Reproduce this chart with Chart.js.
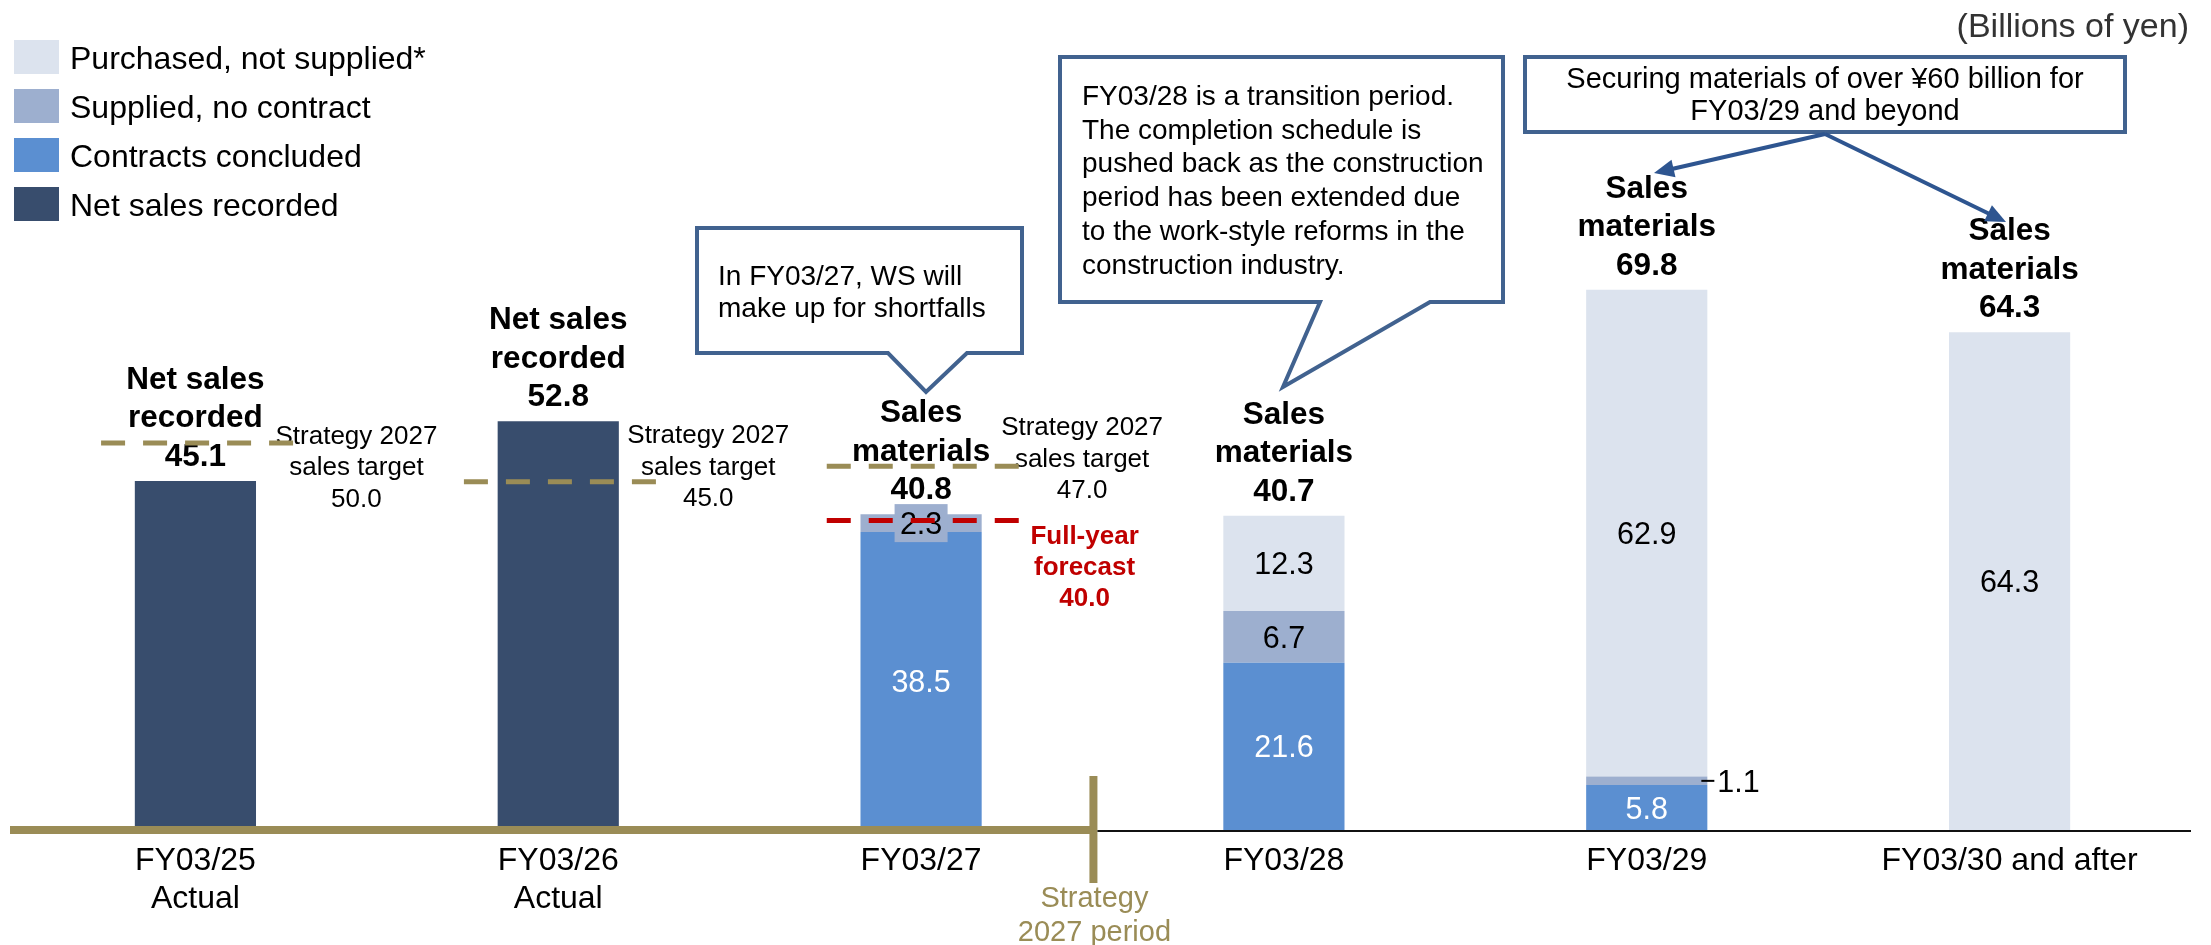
<!DOCTYPE html>
<html lang="en">
<head>
<meta charset="utf-8">
<title>Sales materials outlook</title>
<script src="https://cdn.jsdelivr.net/npm/chart.js@4.4.1/dist/chart.umd.min.js"></script>
<style>
  html, body { margin: 0; padding: 0; background: #fff; }
  #wrap { width: 2211px; height: 945px; }
</style>
</head>
<body>
<div id="wrap"><canvas id="chart" width="2211" height="945"></canvas></div>
<script>
// Data (billions of yen)
const categories = [['FY03/25', 'Actual'], ['FY03/26', 'Actual'], 'FY03/27', 'FY03/28', 'FY03/29', 'FY03/30 and after'];
const netSales  = [45.1, 52.8, null, null, null, null];
const contracts = [null, null, 38.5, 21.6, 5.8, null];
const supplied  = [null, null, 2.3, 6.7, 1.1, null];
const purchased = [null, null, null, 12.3, 62.9, 64.3];
// reported totals (rounded separately from the parts)
const totals    = [45.1, 52.8, 40.8, 40.7, 69.8, 64.3];
const headTitles = [
    ['Net sales', 'recorded'], ['Net sales', 'recorded'],
    ['Sales', 'materials'], ['Sales', 'materials'], ['Sales', 'materials'], ['Sales', 'materials']
];
const strategyTargets = [50.0, 45.0, 47.0];   // FY03/25 .. FY03/27
const forecastFY27 = 40.0;

// Styles
const FONT = '"Liberation Sans", Arial, Helvetica, sans-serif';
const COLORS = {
    purchased: '#DCE3EE',
    supplied: '#9DAFCF',
    contracts: '#5B8FD1',
    netSales: '#384D6D',
    olive: '#9A8C56',
    red: '#C00000',
    callout: '#41628F',
    arrow: '#2E5590'
};

// Helpers
function txt(ctx, str, x, y, size, opts = {}) {
    ctx.font = `${opts.bold ? 'bold ' : ''}${size}px ${FONT}`;
    ctx.fillStyle = opts.color || '#000';
    ctx.textAlign = opts.align || 'center';
    ctx.textBaseline = 'alphabetic';
    ctx.fillText(str, x, y);
}

function dashed(ctx, x0, x1, y, color) {
    ctx.save();
    ctx.strokeStyle = color;
    ctx.lineWidth = 5;
    ctx.setLineDash([24, 18]);
    ctx.beginPath();
    ctx.moveTo(x0, y);
    ctx.lineTo(x1, y);
    ctx.stroke();
    ctx.restore();
}

function callout(ctx, box, ptr, lines, size, lineGap, textX) {
    ctx.save();
    ctx.beginPath();
    ctx.moveTo(box.l, box.t);
    ctx.lineTo(box.r, box.t);
    ctx.lineTo(box.r, box.b);
    if (ptr) {
        ctx.lineTo(ptr.b, box.b);
        ctx.lineTo(ptr.tx, ptr.ty);
        ctx.lineTo(ptr.a, box.b);
    }
    ctx.lineTo(box.l, box.b);
    ctx.closePath();
    ctx.fillStyle = '#fff';
    ctx.fill();
    ctx.lineWidth = 4;
    ctx.lineJoin = 'miter';
    ctx.strokeStyle = COLORS.callout;
    ctx.stroke();
    ctx.restore();
    lines.forEach((s, k) => txt(ctx, s, textX, box.firstBase + k * lineGap, size, { align: box.align || 'left' }));
}

function arrow(ctx, x0, y0, x1, y1) {
    const ang = Math.atan2(y1 - y0, x1 - x0);
    const len = 20, half = 9;
    ctx.save();
    ctx.strokeStyle = COLORS.arrow;
    ctx.fillStyle = COLORS.arrow;
    ctx.lineWidth = 4;
    ctx.beginPath();
    ctx.moveTo(x0, y0);
    ctx.lineTo(x1 - Math.cos(ang) * len * 0.8, y1 - Math.sin(ang) * len * 0.8);
    ctx.stroke();
    ctx.beginPath();
    ctx.moveTo(x1, y1);
    ctx.lineTo(x1 - Math.cos(ang) * len + Math.sin(ang) * half, y1 - Math.sin(ang) * len - Math.cos(ang) * half);
    ctx.lineTo(x1 - Math.cos(ang) * len - Math.sin(ang) * half, y1 - Math.sin(ang) * len + Math.cos(ang) * half);
    ctx.closePath();
    ctx.fill();
    ctx.restore();
}

// Labels, targets, axis line and notes drawn on top of the bars
const overlayPlugin = {
    id: 'overlay',
    afterDatasetsDraw(chart) {
        const { ctx, scales: { x, y }, chartArea } = chart;
        ctx.save();

        // values inside the stacked segments
        chart.data.datasets.forEach((ds, di) => {
            if (!ds.showValues) return;
            chart.getDatasetMeta(di).data.forEach((bar, i) => {
                const v = ds.data[i];
                if (v == null) return;
                const p = bar.getProps(['x', 'y', 'base', 'width'], true);
                const h = p.base - p.y, cy = (p.y + p.base) / 2;
                const label = v.toFixed(1);
                if (h < 12) {
                    const right = p.x + p.width / 2;
                    ctx.strokeStyle = '#000';
                    ctx.lineWidth = 2;
                    ctx.beginPath();
                    ctx.moveTo(right - 6, cy);
                    ctx.lineTo(right + 7, cy);
                    ctx.stroke();
                    txt(ctx, label, right + 10, cy + 11, 30.5, { align: 'left' });
                    return;
                }
                if (h < 30) {
                    ctx.fillStyle = ds.backgroundColor;
                    ctx.fillRect(p.x - 26.5, cy - 19, 53, 38);
                }
                txt(ctx, label, p.x, cy + 11, 30.5, { color: ds.labelColor });
            });
        });

        // bold headers above each stack
        categories.forEach((c, i) => {
            const stackTop = chart.data.datasets.reduce((s, ds) => s + (ds.data[i] || 0), 0);
            const cx = x.getPixelForValue(i);
            const base = y.getPixelForValue(stackTop) - 15;
            const lines = [...headTitles[i], totals[i].toFixed(1)];
            lines.forEach((s, k) => txt(ctx, s, cx, base - (lines.length - 1 - k) * 38.5, 31.5, { bold: true }));
        });

        // Strategy 2027 sales targets
        const targetDx = [161, 150, 161];
        const targetLabelAt = [49.9, 50.0, 51.0];
        strategyTargets.forEach((t, i) => {
            const cx = x.getPixelForValue(i);
            const ly = y.getPixelForValue(targetLabelAt[i]);
            ['Strategy 2027', 'sales target', t.toFixed(1)].forEach((s, k) =>
                txt(ctx, s, cx + targetDx[i], ly + k * 31.5, 26));
        });
        const fx = x.getPixelForValue(2);
        const fy = y.getPixelForValue(37.0);
        ['Full-year', 'forecast', forecastFY27.toFixed(1)].forEach((s, k) =>
            txt(ctx, s, fx + 163.5, fy + k * 31.3, 26, { bold: true, color: COLORS.red }));

        strategyTargets.forEach((t, i) => {
            const x0 = x.getPixelForValue(i - 0.26);
            dashed(ctx, x0, x0 + 192, y.getPixelForValue(t), COLORS.olive);
        });
        const r0 = x.getPixelForValue(2 - 0.26);
        dashed(ctx, r0, r0 + 192, y.getPixelForValue(forecastFY27), COLORS.red);

        // axis line: olive for the Strategy 2027 period, black after it
        const base = y.getPixelForValue(0);
        const split = x.getPixelForValue(2.475);
        ctx.fillStyle = COLORS.olive;
        ctx.fillRect(10, base - 4, split - 10, 8);
        ctx.fillRect(split - 4, base - 54, 8, 107);
        ctx.fillStyle = '#111';
        ctx.fillRect(split + 4, base, chartArea.right - split - 4, 2);
        txt(ctx, 'Strategy', split + 1, base + 77, 29, { color: COLORS.olive });
        txt(ctx, '2027 period', split + 1, base + 111, 29, { color: COLORS.olive });

        // legend, top first
        const rows = [...chart.data.datasets].reverse();
        rows.forEach((ds, k) => {
            const top = 40 + k * 49;
            ctx.fillStyle = ds.backgroundColor;
            ctx.fillRect(14, top, 45, 34);
            txt(ctx, ds.label, 70, top + 28.5, 32, { align: 'left' });
        });

        // unit
        txt(ctx, '(Billions of yen)', 2189, 37, 34, { align: 'right', color: '#333' });

        // notes
        callout(ctx, { l: 697, t: 228, r: 1022, b: 353, firstBase: 285 },
            { a: 888, b: 967, tx: 926, ty: 392 },
            ['In FY03/27, WS will', 'make up for shortfalls'], 28, 32, 718);
        callout(ctx, { l: 1060, t: 57, r: 1503, b: 302, firstBase: 105 },
            { a: 1320, b: 1430, tx: 1283, ty: 387 },
            ['FY03/28 is a transition period.', 'The completion schedule is',
             'pushed back as the construction', 'period has been extended due',
             'to the work-style reforms in the', 'construction industry.'], 28, 33.7, 1082);
        callout(ctx, { l: 1525, t: 57, r: 2125, b: 132, firstBase: 88, align: 'center' }, null,
            ['Securing materials of over \u00A560 billion for', 'FY03/29 and beyond'], 29, 32, 1825);
        arrow(ctx, 1825, 134, 1654, 173);
        arrow(ctx, 1825, 134, 2006, 222);

        ctx.restore();
    }
};

const barCommon = { stack: 'a', barPercentage: 0.334, categoryPercentage: 1, borderWidth: 0 };

new Chart(document.getElementById('chart'), {
    type: 'bar',
    data: {
        labels: categories,
        datasets: [
            { ...barCommon, label: 'Net sales recorded', data: netSales, backgroundColor: COLORS.netSales, showValues: false },
            { ...barCommon, label: 'Contracts concluded', data: contracts, backgroundColor: COLORS.contracts, showValues: true, labelColor: '#fff' },
            { ...barCommon, label: 'Supplied, no contract', data: supplied, backgroundColor: COLORS.supplied, showValues: true, labelColor: '#000' },
            { ...barCommon, label: 'Purchased, not supplied*', data: purchased, backgroundColor: COLORS.purchased, showValues: true, labelColor: '#000' }
        ]
    },
    options: {
        responsive: false,
        animation: false,
        devicePixelRatio: 1,
        layout: { padding: { top: 56, left: 14, right: 20, bottom: 0 } },
        scales: {
            x: {
                stacked: true,
                grid: { display: false, drawTicks: false },
                border: { display: false },
                ticks: { color: '#000', padding: 12, font: { family: FONT, size: 32, lineHeight: 1.2 }, maxRotation: 0, autoSkip: false },
                afterFit: (scale) => { scale.height = 115; }
            },
            y: { stacked: true, display: false, min: 0, max: 100 }
        },
        plugins: { legend: { display: false }, tooltip: { enabled: false } }
    },
    plugins: [overlayPlugin]
});
</script>
</body>
</html>
